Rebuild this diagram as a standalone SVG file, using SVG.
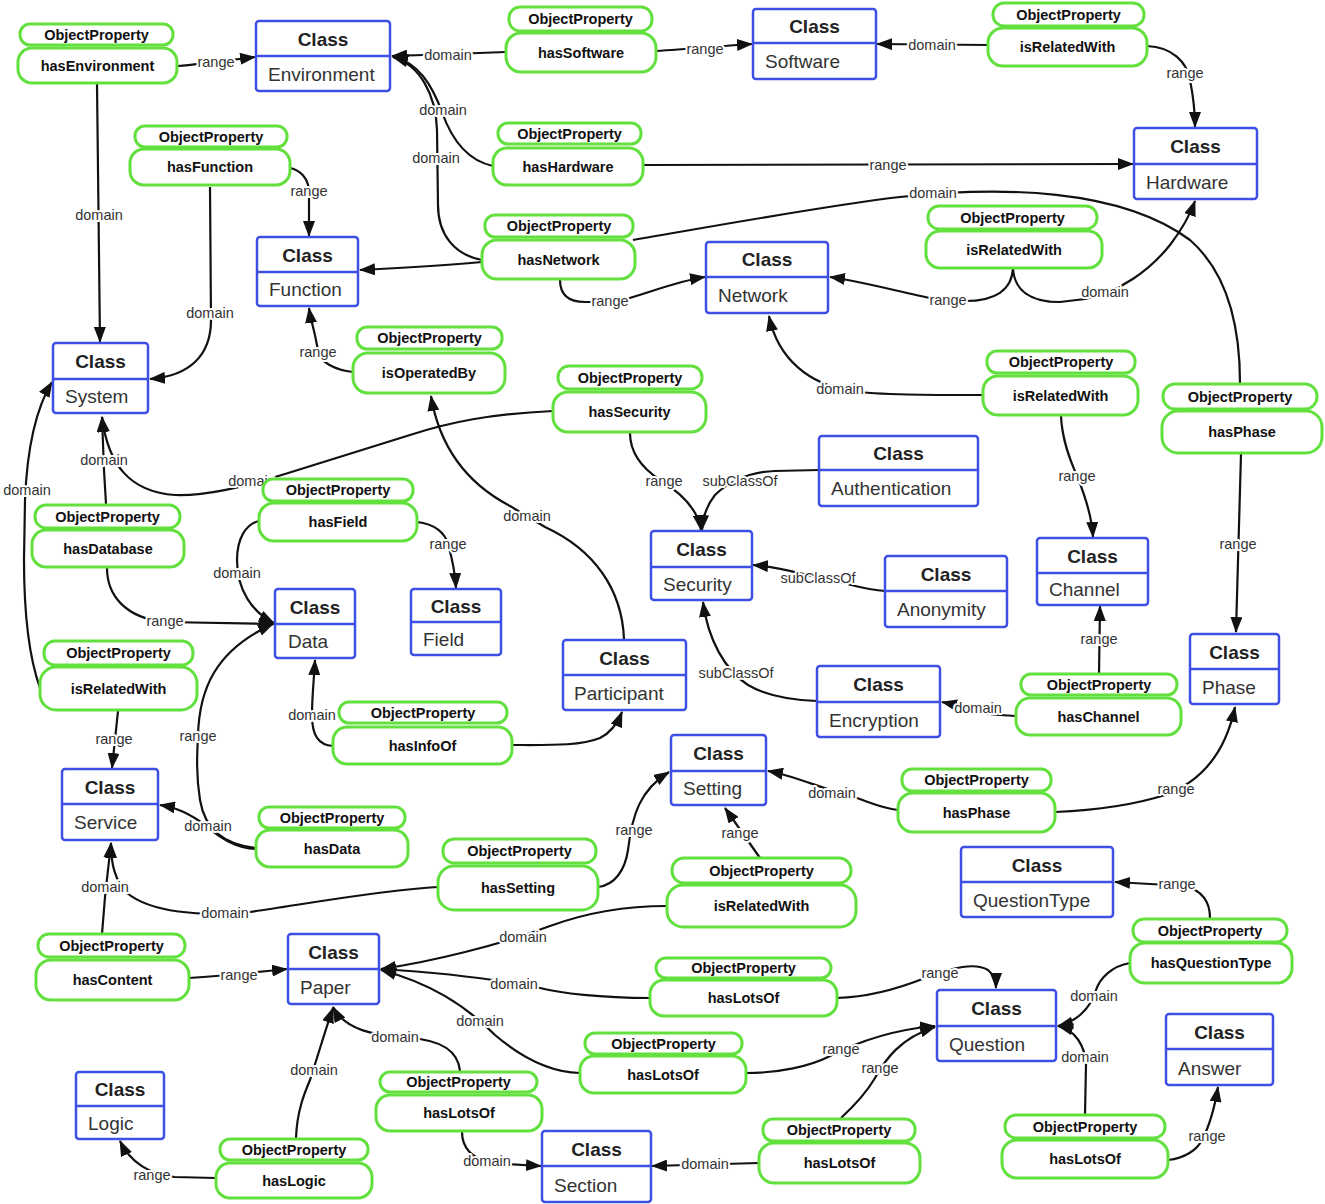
<svg xmlns="http://www.w3.org/2000/svg" width="1325" height="1204" viewBox="0 0 1325 1204">
<defs>
<marker id="ah" viewBox="0 0 16 12" refX="15" refY="6" markerWidth="16" markerHeight="12" orient="auto" markerUnits="userSpaceOnUse"><path d="M0,0 L16,6 L0,12 z" fill="#111"/></marker>
<style>
.cls rect{fill:#fff;stroke:#3d4fe4;stroke-width:2.5}
.cls line{stroke:#3d4fe4;stroke-width:2.5}
.ct{font-family:"Liberation Sans",Arial,sans-serif;font-weight:bold;font-size:19px;fill:#222;text-anchor:middle}
.cn{font-family:"Liberation Sans",Arial,sans-serif;font-size:19px;fill:#333}
.op rect{fill:#fff;stroke:#62e03e;stroke-width:3}
.ot,.on{font-family:"Liberation Sans",Arial,sans-serif;font-weight:bold;font-size:14.5px;fill:#111;text-anchor:middle}
.e{fill:none;stroke:#111;stroke-width:2.2;marker-end:url(#ah)}
.n{fill:none;stroke:#111;stroke-width:2.2}
.l{font-family:"Liberation Sans",Arial,sans-serif;font-size:14.5px;fill:#333;text-anchor:middle;stroke:#fff;stroke-width:4;paint-order:stroke;stroke-linejoin:round}
</style>
</defs>
<rect width="1325" height="1204" fill="#fff"/>
<g id="connectors">
<path class="e" d="M178,66 C205,64 230,60 255,57"/>
<path class="e" d="M97,84 L100,342"/>
<path class="e" d="M506,52 C470,53 430,55 392,56"/>
<path class="e" d="M656,51 C690,49 720,46 752,44"/>
<path class="e" d="M988,45 L877,44"/>
<path class="e" d="M1147,46 C1172,47 1187,62 1190,80 C1193,95 1195,110 1195,127"/>
<path class="e" d="M493,166 C465,160 450,135 442,112 C432,85 418,62 393,57"/>
<path class="e" d="M643,165 L1133,164"/>
<path class="e" d="M482,260 C455,255 438,235 438,205 L437,130 C436,95 420,65 393,57"/>
<path class="e" d="M482,262 C440,266 400,268 360,270"/>
<path class="e" d="M560,280 C560,293 567,302 585,302 L615,302 C645,295 672,282 705,277"/>
<path class="n" d="M633,240 C720,225 830,205 900,197 C1000,186 1120,188 1190,240 C1230,275 1240,330 1240,383"/>
<path class="e" d="M1013,268 C1012,290 995,301 965,301 L935,299 C900,292 860,281 830,277"/>
<path class="e" d="M1013,268 C1014,290 1030,302 1060,302 L1085,299 C1120,292 1150,270 1170,245 C1183,228 1190,215 1195,201"/>
<path class="e" d="M290,168 C300,170 308,178 309,190 L309,236"/>
<path class="e" d="M210,187 L211,320 C211,355 190,376 150,379"/>
<path class="e" d="M353,372 C335,370 320,362 318,352 C316,335 311,322 309,308"/>
<path class="e" d="M624,639 C622,590 595,550 545,527 L510,506 C470,485 440,450 431,396"/>
<path class="e" d="M983,395 C930,395 880,395 850,391 C810,384 778,360 769,316"/>
<path class="e" d="M1061,416 C1062,440 1070,460 1077,476 C1086,498 1092,518 1093,537"/>
<path class="e" d="M1241,454 L1236,632"/>
<path class="e" d="M553,411 C490,414 450,422 410,435 L285,474 C240,488 205,496 175,495 C130,492 108,465 102,417"/>
<path class="e" d="M106,504 L104,470 L102,417"/>
<path class="e" d="M40,688 C30,660 24,620 24,560 L25,500 C27,450 35,410 52,382"/>
<path class="e" d="M118,711 L112,768"/>
<path class="e" d="M107,568 C107,595 125,618 165,622 L274,624"/>
<path class="e" d="M259,521 C245,524 237,540 237,560 C237,590 252,612 274,623"/>
<path class="e" d="M417,522 C435,524 445,533 448,544 C452,558 455,570 456,588"/>
<path class="e" d="M256,848 C225,845 205,830 200,800 C196,775 197,755 198,736 C199,690 215,650 273,624"/>
<path class="e" d="M256,849 C235,848 220,838 205,825 C190,814 178,808 160,805"/>
<path class="e" d="M333,746 C318,745 312,735 312,715 C312,695 314,680 315,660"/>
<path class="e" d="M512,745 C550,745 580,746 600,738 C612,732 618,722 622,712"/>
<path class="e" d="M630,433 C630,455 645,470 660,480 C683,494 698,510 701,530"/>
<path class="e" d="M819,470 L775,471 C745,472 725,485 715,495 C707,505 703,515 702,530"/>
<path class="e" d="M885,591 C865,590 850,584 830,580 C800,574 780,567 753,565"/>
<path class="e" d="M817,701 C790,700 765,695 748,685 C725,670 708,640 703,602"/>
<path class="e" d="M1016,716 L1000,715 C975,713 960,706 942,702"/>
<path class="e" d="M1099,674 L1100,606"/>
<path class="e" d="M898,810 C880,808 865,800 850,796 C820,788 795,776 768,771"/>
<path class="e" d="M1055,812 C1100,810 1140,803 1165,795 C1200,782 1225,755 1235,707"/>
<path class="e" d="M598,887 C615,885 625,870 628,850 C632,815 640,790 669,772"/>
<path class="e" d="M760,858 L725,808"/>
<path class="e" d="M438,887 C380,890 300,905 250,912 C200,917 150,912 127,893 C115,880 111,865 111,843"/>
<path class="e" d="M102,934 L105,897 L111,843"/>
<path class="e" d="M189,978 C220,976 250,973 287,969"/>
<path class="e" d="M667,906 C620,906 580,915 550,926 C500,945 430,962 381,969"/>
<path class="e" d="M650,998 C600,998 560,993 540,988 C490,978 430,972 381,969"/>
<path class="e" d="M580,1073 C545,1072 515,1052 495,1035 C465,1005 430,983 381,970"/>
<path class="e" d="M837,998 C870,997 900,988 925,978 C950,968 975,962 988,970 C994,975 996,980 996,988"/>
<path class="e" d="M746,1073 C780,1073 810,1066 828,1057 C855,1043 890,1030 935,1026"/>
<path class="e" d="M841,1118 C855,1105 868,1090 875,1078 C885,1060 900,1038 935,1027"/>
<path class="e" d="M759,1163 L652,1166"/>
<path class="e" d="M460,1071 C458,1050 440,1040 410,1038 C375,1036 345,1030 333,1007"/>
<path class="e" d="M462,1132 C462,1148 472,1158 490,1163 L541,1166"/>
<path class="e" d="M296,1138 C297,1110 305,1092 310,1080 C318,1055 327,1025 333,1008"/>
<path class="e" d="M216,1178 L175,1177 C150,1175 130,1162 120,1141"/>
<path class="e" d="M1210,918 C1210,900 1200,890 1185,886 L1115,882"/>
<path class="e" d="M1130,963 C1112,966 1100,978 1096,990 C1090,1010 1075,1022 1058,1026"/>
<path class="e" d="M1085,1115 L1086,1065 C1085,1045 1075,1030 1058,1026"/>
<path class="e" d="M1168,1160 C1185,1158 1197,1150 1202,1140 C1210,1125 1215,1105 1218,1087"/>
<g id="edge-labels">
<text class="l" x="216" y="67">range</text>
<text class="l" x="99" y="220">domain</text>
<text class="l" x="448" y="60">domain</text>
<text class="l" x="705" y="54">range</text>
<text class="l" x="932" y="50">domain</text>
<text class="l" x="1185" y="78">range</text>
<text class="l" x="443" y="115">domain</text>
<text class="l" x="888" y="170">range</text>
<text class="l" x="436" y="163">domain</text>
<text class="l" x="610" y="306">range</text>
<text class="l" x="933" y="198">domain</text>
<text class="l" x="948" y="305">range</text>
<text class="l" x="1105" y="297">domain</text>
<text class="l" x="309" y="196">range</text>
<text class="l" x="210" y="318">domain</text>
<text class="l" x="318" y="357">range</text>
<text class="l" x="527" y="521">domain</text>
<text class="l" x="840" y="394">domain</text>
<text class="l" x="1077" y="481">range</text>
<text class="l" x="1238" y="549">range</text>
<text class="l" x="252" y="486">domain</text>
<text class="l" x="104" y="465">domain</text>
<text class="l" x="27" y="495">domain</text>
<text class="l" x="114" y="744">range</text>
<text class="l" x="165" y="626">range</text>
<text class="l" x="237" y="578">domain</text>
<text class="l" x="448" y="549">range</text>
<text class="l" x="198" y="741">range</text>
<text class="l" x="208" y="831">domain</text>
<text class="l" x="312" y="720">domain</text>
<text class="l" x="664" y="486">range</text>
<text class="l" x="740" y="486">subClassOf</text>
<text class="l" x="818" y="583">subClassOf</text>
<text class="l" x="736" y="678">subClassOf</text>
<text class="l" x="978" y="713">domain</text>
<text class="l" x="1099" y="644">range</text>
<text class="l" x="832" y="798">domain</text>
<text class="l" x="1176" y="794">range</text>
<text class="l" x="634" y="835">range</text>
<text class="l" x="740" y="838">range</text>
<text class="l" x="225" y="918">domain</text>
<text class="l" x="105" y="892">domain</text>
<text class="l" x="239" y="980">range</text>
<text class="l" x="523" y="942">domain</text>
<text class="l" x="514" y="989">domain</text>
<text class="l" x="480" y="1026">domain</text>
<text class="l" x="940" y="978">range</text>
<text class="l" x="841" y="1054">range</text>
<text class="l" x="880" y="1073">range</text>
<text class="l" x="705" y="1169">domain</text>
<text class="l" x="395" y="1042">domain</text>
<text class="l" x="487" y="1166">domain</text>
<text class="l" x="314" y="1075">domain</text>
<text class="l" x="152" y="1180">range</text>
<text class="l" x="1177" y="889">range</text>
<text class="l" x="1094" y="1001">domain</text>
<text class="l" x="1085" y="1062">domain</text>
<text class="l" x="1207" y="1141">range</text>
</g>
</g>
<g id="c-environment" class="cls"><rect x="256" y="21" width="134" height="70" rx="3"/><line x1="256" y1="56" x2="390" y2="56"/><text class="ct" x="323" y="45.5">Class</text><text class="cn" x="268" y="80.5">Environment</text></g>
<g id="c-software" class="cls"><rect x="753" y="9" width="123" height="70" rx="3"/><line x1="753" y1="43" x2="876" y2="43"/><text class="ct" x="814.5" y="33">Class</text><text class="cn" x="765" y="68">Software</text></g>
<g id="c-hardware" class="cls"><rect x="1134" y="128" width="123" height="71" rx="3"/><line x1="1134" y1="164" x2="1257" y2="164"/><text class="ct" x="1195.5" y="153">Class</text><text class="cn" x="1146" y="188.5">Hardware</text></g>
<g id="c-function" class="cls"><rect x="257" y="237" width="101" height="69" rx="3"/><line x1="257" y1="272" x2="358" y2="272"/><text class="ct" x="307.5" y="261.5">Class</text><text class="cn" x="269" y="296">Function</text></g>
<g id="c-network" class="cls"><rect x="706" y="242" width="122" height="71" rx="3"/><line x1="706" y1="277" x2="828" y2="277"/><text class="ct" x="767" y="266">Class</text><text class="cn" x="718" y="302">Network</text></g>
<g id="c-system" class="cls"><rect x="53" y="343" width="95" height="70" rx="3"/><line x1="53" y1="379" x2="148" y2="379"/><text class="ct" x="100.5" y="368">Class</text><text class="cn" x="65" y="403">System</text></g>
<g id="c-authentication" class="cls"><rect x="819" y="436" width="159" height="70" rx="3"/><line x1="819" y1="470" x2="978" y2="470"/><text class="ct" x="898.5" y="460">Class</text><text class="cn" x="831" y="495">Authentication</text></g>
<g id="c-security" class="cls"><rect x="651" y="531" width="101" height="69" rx="3"/><line x1="651" y1="567" x2="752" y2="567"/><text class="ct" x="701.5" y="556">Class</text><text class="cn" x="663" y="590.5">Security</text></g>
<g id="c-anonymity" class="cls"><rect x="885" y="556" width="122" height="71" rx="3"/><line x1="885" y1="591" x2="1007" y2="591"/><text class="ct" x="946" y="580.5">Class</text><text class="cn" x="897" y="616">Anonymity</text></g>
<g id="c-channel" class="cls"><rect x="1037" y="538" width="111" height="67" rx="3"/><line x1="1037" y1="573" x2="1148" y2="573"/><text class="ct" x="1092.5" y="562.5">Class</text><text class="cn" x="1049" y="596">Channel</text></g>
<g id="c-data" class="cls"><rect x="275" y="589" width="80" height="69" rx="3"/><line x1="275" y1="624" x2="355" y2="624"/><text class="ct" x="315" y="613.5">Class</text><text class="cn" x="288" y="648">Data</text></g>
<g id="c-field" class="cls"><rect x="411" y="589" width="90" height="66" rx="3"/><line x1="411" y1="622" x2="501" y2="622"/><text class="ct" x="456" y="612.5">Class</text><text class="cn" x="423" y="645.5">Field</text></g>
<g id="c-participant" class="cls"><rect x="563" y="640" width="123" height="70" rx="3"/><line x1="563" y1="675" x2="686" y2="675"/><text class="ct" x="624.5" y="664.5">Class</text><text class="cn" x="574" y="699.5">Participant</text></g>
<g id="c-encryption" class="cls"><rect x="817" y="666" width="123" height="71" rx="3"/><line x1="817" y1="702" x2="940" y2="702"/><text class="ct" x="878.5" y="691">Class</text><text class="cn" x="829" y="726.5">Encryption</text></g>
<g id="c-phase" class="cls"><rect x="1190" y="634" width="89" height="70" rx="3"/><line x1="1190" y1="669" x2="1279" y2="669"/><text class="ct" x="1234.5" y="658.5">Class</text><text class="cn" x="1202" y="693.5">Phase</text></g>
<g id="c-setting" class="cls"><rect x="671" y="735" width="95" height="70" rx="3"/><line x1="671" y1="771" x2="766" y2="771"/><text class="ct" x="718.5" y="760">Class</text><text class="cn" x="683" y="795">Setting</text></g>
<g id="c-service" class="cls"><rect x="62" y="769" width="96" height="71" rx="3"/><line x1="62" y1="804" x2="158" y2="804"/><text class="ct" x="110" y="793.5">Class</text><text class="cn" x="74" y="829">Service</text></g>
<g id="c-questiontype" class="cls"><rect x="961" y="847" width="152" height="70" rx="3"/><line x1="961" y1="882" x2="1113" y2="882"/><text class="ct" x="1037" y="871.5">Class</text><text class="cn" x="973" y="906.5">QuestionType</text></g>
<g id="c-paper" class="cls"><rect x="288" y="934" width="91" height="70" rx="3"/><line x1="288" y1="969" x2="379" y2="969"/><text class="ct" x="333.5" y="958.5">Class</text><text class="cn" x="300" y="993.5">Paper</text></g>
<g id="c-question" class="cls"><rect x="937" y="990" width="119" height="71" rx="3"/><line x1="937" y1="1026" x2="1056" y2="1026"/><text class="ct" x="996.5" y="1015">Class</text><text class="cn" x="949" y="1050.5">Question</text></g>
<g id="c-answer" class="cls"><rect x="1166" y="1014" width="107" height="71" rx="3"/><line x1="1166" y1="1049" x2="1273" y2="1049"/><text class="ct" x="1219.5" y="1038.5">Class</text><text class="cn" x="1178" y="1074.5">Answer</text></g>
<g id="c-logic" class="cls"><rect x="76" y="1072" width="88" height="67" rx="3"/><line x1="76" y1="1106" x2="164" y2="1106"/><text class="ct" x="120" y="1096">Class</text><text class="cn" x="88" y="1129.5">Logic</text></g>
<g id="c-section" class="cls"><rect x="542" y="1131" width="109" height="71" rx="3"/><line x1="542" y1="1166" x2="651" y2="1166"/><text class="ct" x="596.5" y="1155.5">Class</text><text class="cn" x="554" y="1191.5">Section</text></g>

<g id="op-hasEnvironment" class="op"><rect x="20" y="24" width="153" height="21" rx="10"/><rect x="18" y="48" width="159" height="35" rx="14"/><text class="ot" x="96.5" y="39.5">ObjectProperty</text><text class="on" x="97.5" y="70.5">hasEnvironment</text></g>
<g id="op-hasSoftware" class="op"><rect x="509" y="7" width="143" height="24" rx="11"/><rect x="506" y="33" width="150" height="39" rx="15"/><text class="ot" x="580.5" y="24">ObjectProperty</text><text class="on" x="581" y="57.5">hasSoftware</text></g>
<g id="op-isRelatedWith-1" class="op"><rect x="993" y="3" width="151" height="23" rx="11"/><rect x="988" y="28" width="159" height="38" rx="15"/><text class="ot" x="1068.5" y="19.5">ObjectProperty</text><text class="on" x="1067.5" y="52">isRelatedWith</text></g>
<g id="op-hasFunction" class="op"><rect x="135" y="126" width="152" height="21" rx="10"/><rect x="130" y="149" width="160" height="36" rx="14"/><text class="ot" x="211" y="141.5">ObjectProperty</text><text class="on" x="210" y="172">hasFunction</text></g>
<g id="op-hasHardware" class="op"><rect x="498" y="123" width="143" height="21" rx="10"/><rect x="493" y="148" width="150" height="37" rx="14"/><text class="ot" x="569.5" y="138.5">ObjectProperty</text><text class="on" x="568" y="171.5">hasHardware</text></g>
<g id="op-hasNetwork" class="op"><rect x="485" y="215" width="148" height="22" rx="10"/><rect x="482" y="240" width="153" height="39" rx="15"/><text class="ot" x="559" y="231">ObjectProperty</text><text class="on" x="558.5" y="264.5">hasNetwork</text></g>
<g id="op-isRelatedWith-2" class="op"><rect x="928" y="206" width="169" height="23" rx="11"/><rect x="926" y="231" width="176" height="37" rx="14"/><text class="ot" x="1012.5" y="222.5">ObjectProperty</text><text class="on" x="1014" y="254.5">isRelatedWith</text></g>
<g id="op-isOperatedBy" class="op"><rect x="357" y="327" width="145" height="22" rx="10"/><rect x="353" y="353" width="152" height="40" rx="15"/><text class="ot" x="429.5" y="343">ObjectProperty</text><text class="on" x="429" y="378">isOperatedBy</text></g>
<g id="op-hasSecurity" class="op"><rect x="558" y="366" width="144" height="23" rx="11"/><rect x="553" y="392" width="153" height="40" rx="15"/><text class="ot" x="630" y="382.5">ObjectProperty</text><text class="on" x="629.5" y="417">hasSecurity</text></g>
<g id="op-isRelatedWith-3" class="op"><rect x="987" y="351" width="148" height="22" rx="10"/><rect x="983" y="376" width="155" height="39" rx="15"/><text class="ot" x="1061" y="367">ObjectProperty</text><text class="on" x="1060.5" y="400.5">isRelatedWith</text></g>
<g id="op-hasPhase-1" class="op"><rect x="1163" y="384" width="154" height="25" rx="12"/><rect x="1162" y="411" width="160" height="42" rx="16"/><text class="ot" x="1240" y="401.5">ObjectProperty</text><text class="on" x="1242" y="437">hasPhase</text></g>
<g id="op-hasField" class="op"><rect x="263" y="479" width="150" height="22" rx="10"/><rect x="259" y="503" width="158" height="38" rx="15"/><text class="ot" x="338" y="495">ObjectProperty</text><text class="on" x="338" y="527">hasField</text></g>
<g id="op-hasDatabase" class="op"><rect x="35" y="505" width="145" height="23" rx="11"/><rect x="32" y="530" width="152" height="37" rx="14"/><text class="ot" x="107.5" y="521.5">ObjectProperty</text><text class="on" x="108" y="553.5">hasDatabase</text></g>
<g id="op-isRelatedWith-4" class="op"><rect x="44" y="641" width="149" height="24" rx="11"/><rect x="40" y="667" width="157" height="43" rx="16"/><text class="ot" x="118.5" y="658">ObjectProperty</text><text class="on" x="118.5" y="693.5">isRelatedWith</text></g>
<g id="op-hasInfoOf" class="op"><rect x="339" y="702" width="168" height="21" rx="10"/><rect x="333" y="727" width="179" height="37" rx="14"/><text class="ot" x="423" y="717.5">ObjectProperty</text><text class="on" x="422.5" y="750.5">hasInfoOf</text></g>
<g id="op-hasChannel" class="op"><rect x="1021" y="674" width="156" height="21" rx="10"/><rect x="1016" y="698" width="165" height="37" rx="14"/><text class="ot" x="1099" y="689.5">ObjectProperty</text><text class="on" x="1098.5" y="721.5">hasChannel</text></g>
<g id="op-hasPhase-2" class="op"><rect x="902" y="769" width="149" height="22" rx="10"/><rect x="898" y="793" width="157" height="39" rx="15"/><text class="ot" x="976.5" y="785">ObjectProperty</text><text class="on" x="976.5" y="817.5">hasPhase</text></g>
<g id="op-hasData" class="op"><rect x="259" y="807" width="146" height="21" rx="10"/><rect x="256" y="830" width="152" height="37" rx="14"/><text class="ot" x="332" y="822.5">ObjectProperty</text><text class="on" x="332" y="853.5">hasData</text></g>
<g id="op-hasSetting" class="op"><rect x="443" y="839" width="153" height="24" rx="11"/><rect x="438" y="866" width="160" height="44" rx="16"/><text class="ot" x="519.5" y="856">ObjectProperty</text><text class="on" x="518" y="893">hasSetting</text></g>
<g id="op-isRelatedWith-5" class="op"><rect x="672" y="858" width="179" height="25" rx="12"/><rect x="667" y="885" width="189" height="42" rx="16"/><text class="ot" x="761.5" y="875.5">ObjectProperty</text><text class="on" x="761.5" y="911">isRelatedWith</text></g>
<g id="op-hasQuestionType" class="op"><rect x="1133" y="919" width="154" height="23" rx="11"/><rect x="1130" y="943" width="162" height="40" rx="15"/><text class="ot" x="1210" y="935.5">ObjectProperty</text><text class="on" x="1211" y="968">hasQuestionType</text></g>
<g id="op-hasContent" class="op"><rect x="38" y="934" width="147" height="23" rx="11"/><rect x="36" y="960" width="153" height="40" rx="15"/><text class="ot" x="111.5" y="950.5">ObjectProperty</text><text class="on" x="112.5" y="985">hasContent</text></g>
<g id="op-hasLotsOf-1" class="op"><rect x="656" y="958" width="175" height="20" rx="10"/><rect x="650" y="980" width="187" height="36" rx="14"/><text class="ot" x="743.5" y="973">ObjectProperty</text><text class="on" x="743.5" y="1003">hasLotsOf</text></g>
<g id="op-hasLotsOf-2" class="op"><rect x="585" y="1033" width="157" height="21" rx="10"/><rect x="580" y="1056" width="166" height="37" rx="14"/><text class="ot" x="663.5" y="1048.5">ObjectProperty</text><text class="on" x="663" y="1079.5">hasLotsOf</text></g>
<g id="op-hasLotsOf-3" class="op"><rect x="380" y="1072" width="157" height="20" rx="10"/><rect x="376" y="1095" width="166" height="36" rx="14"/><text class="ot" x="458.5" y="1087">ObjectProperty</text><text class="on" x="459" y="1118">hasLotsOf</text></g>
<g id="op-hasLotsOf-4" class="op"><rect x="763" y="1119" width="152" height="22" rx="10"/><rect x="759" y="1143" width="161" height="40" rx="15"/><text class="ot" x="839" y="1135">ObjectProperty</text><text class="on" x="839.5" y="1168">hasLotsOf</text></g>
<g id="op-hasLotsOf-5" class="op"><rect x="1005" y="1115" width="160" height="23" rx="11"/><rect x="1002" y="1140" width="166" height="38" rx="15"/><text class="ot" x="1085" y="1131.5">ObjectProperty</text><text class="on" x="1085" y="1164">hasLotsOf</text></g>
<g id="op-hasLogic" class="op"><rect x="220" y="1139" width="148" height="21" rx="10"/><rect x="216" y="1163" width="156" height="35" rx="14"/><text class="ot" x="294" y="1154.5">ObjectProperty</text><text class="on" x="294" y="1185.5">hasLogic</text></g>
</svg>
